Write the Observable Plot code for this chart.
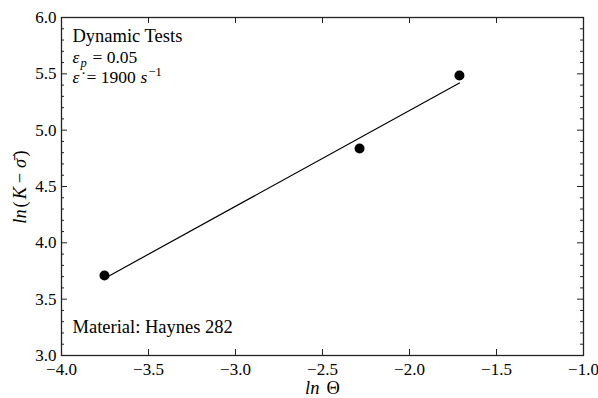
<!DOCTYPE html>
<html><head><meta charset="utf-8">
<script src="https://cdn.jsdelivr.net/npm/d3@7"></script>
<script src="https://cdn.jsdelivr.net/npm/@observablehq/plot@0.6"></script>
<style>
html body #chart svg.mychart text, html body #chart svg.mychart tspan { font-family: "Liberation Serif", serif !important; }
</style>
</head><body style="margin:0">
<div id="chart"></div>
<script>
// data
const lnTheta = [-3.753, -2.287, -1.713];
const lnKsigma = [3.71, 4.838, 5.485];
const fitLnTheta = [-3.753, -1.713];
const fitLnKsigma = [3.684, 5.418];
const xTicks = [-4.0, -3.5, -3.0, -2.5, -2.0, -1.5, -1.0];
const yTicks = [3.0, 3.5, 4.0, 4.5, 5.0, 5.5, 6.0];
const yMinorTicks = [3.1,3.2,3.3,3.4,3.6,3.7,3.8,3.9,4.1,4.2,4.3,4.4,4.6,4.7,4.8,4.9,5.1,5.2,5.3,5.4,5.6,5.7,5.8,5.9];

const points = lnTheta.map((x, i) => ({x, y: lnKsigma[i]}));
const fit = fitLnTheta.map((x, i) => ({x, y: fitLnKsigma[i]}));

const mL = 61, mR = 15, mT = 17, mB = 43, W = 598, H = 398;
const fw = W - mL - mR, fh = H - mT - mB;
const major = 6, minor = 3;
const ink = "#222";
const F = "Liberation Serif";

function label(s, o) {
  return Plot.text([s], {lineAnchor: "middle", fill: "#000", fontFamily: F, ...o});
}

const chart = Plot.plot({
  width: W, height: H,
  marginLeft: mL, marginRight: mR, marginTop: mT, marginBottom: mB,
  className: "mychart",
  style: {fontFamily: F},
  x: {domain: [-4, -1]},
  y: {domain: [3, 6]},
  marks: [
    Plot.frame({stroke: ink, strokeWidth: 1.3}),
    // inward ticks
    Plot.tickX(xTicks, {x: d => d, stroke: ink, insetTop: fh - major}),
    Plot.tickX(xTicks, {x: d => d, stroke: ink, insetBottom: fh - major}),
    Plot.tickY(yTicks, {y: d => d, stroke: ink, insetRight: fw - major}),
    Plot.tickY(yTicks, {y: d => d, stroke: ink, insetLeft: fw - major}),
    Plot.tickY(yMinorTicks, {y: d => d, stroke: ink, insetRight: fw - minor}),
    Plot.tickY(yMinorTicks, {y: d => d, stroke: ink, insetLeft: fw - minor}),
    // tick labels
    Plot.axisX(xTicks, {tickSize: 0, tickPadding: 7, tickFormat: d3.format(".1f"), label: null, fill: "#000", fontSize: 17, fontFamily: F}),
    Plot.axisY(yTicks, {tickSize: 0, tickPadding: 5, tickFormat: d3.format(".1f"), label: null, fill: "#000", fontSize: 17, fontFamily: F}),
    // data
    Plot.line(fit, {x: "x", y: "y", stroke: "#000", strokeWidth: 1.2}),
    Plot.dot(points, {x: "x", y: "y", r: 5, fill: "#000", stroke: "none"}),
    // annotations
    label("Dynamic Tests", {frameAnchor: "top-left", textAnchor: "start", dx: 11, dy: 19, fontSize: 18.5}),
    label("ε", {frameAnchor: "top-left", textAnchor: "start", dx: 11, dy: 40, fontSize: 17.5, fontStyle: "italic"}),
    label("p", {frameAnchor: "top-left", textAnchor: "start", dx: 19, dy: 45, fontSize: 12.5, fontStyle: "italic"}),
    label("= 0.05", {frameAnchor: "top-left", textAnchor: "start", dx: 31, dy: 40, fontSize: 17.5}),
    label("ε̇", {frameAnchor: "top-left", textAnchor: "start", dx: 11, dy: 60, fontSize: 17.5, fontStyle: "italic"}),
    label("= 1900", {frameAnchor: "top-left", textAnchor: "start", dx: 25, dy: 60, fontSize: 17.5}),
    label("s", {frameAnchor: "top-left", textAnchor: "start", dx: 79, dy: 60, fontSize: 17.5, fontStyle: "italic"}),
    label("−1", {frameAnchor: "top-left", textAnchor: "start", dx: 87, dy: 54, fontSize: 12.5}),
    label("Material: Haynes 282", {frameAnchor: "bottom-left", textAnchor: "start", dx: 11, dy: -28, fontSize: 18.5}),
    // x axis title
    label("ln", {frameAnchor: "bottom", textAnchor: "end", dx: -3, dy: 33, fontSize: 18.5, fontStyle: "italic"}),
    label("Θ", {frameAnchor: "bottom", textAnchor: "start", dx: 4, dy: 33, fontSize: 18.5}),
    // y axis title (pieces along the rotated baseline)
    label("ln", {frameAnchor: "left", textAnchor: "middle", rotate: -90, dx: -41, dy: 30, fontSize: 18.5, fontStyle: "italic"}),
    label("(", {frameAnchor: "left", textAnchor: "middle", rotate: -90, dx: -41, dy: 18, fontSize: 18.5}),
    label("K", {frameAnchor: "left", textAnchor: "middle", rotate: -90, dx: -41, dy: 6.5, fontSize: 18.5, fontStyle: "italic"}),
    label("−", {frameAnchor: "left", textAnchor: "middle", rotate: -90, dx: -41, dy: -8.5, fontSize: 18.5}),
    label("σ̄", {frameAnchor: "left", textAnchor: "middle", rotate: -90, dx: -41, dy: -23, fontSize: 18.5, fontStyle: "italic"}),
    label(")", {frameAnchor: "left", textAnchor: "middle", rotate: -90, dx: -41, dy: -33, fontSize: 18.5})
  ]
});
document.getElementById("chart").appendChild(chart);
chart.classList.add("mychart");
chart.querySelectorAll("text, tspan").forEach(t => t.style.setProperty("font-family", '"Liberation Serif", serif', "important"));
chart.style.setProperty("font-family", '"Liberation Serif", serif', "important");
</script>
</body></html>
